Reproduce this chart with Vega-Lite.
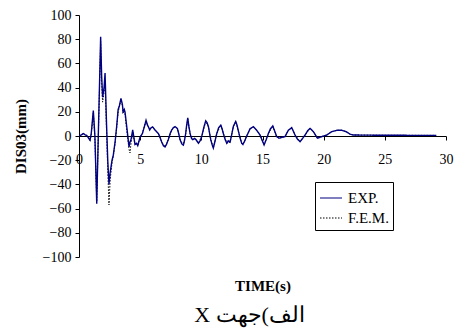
{
  "$schema": "https://vega.github.io/schema/vega-lite/v6.json",
  "width": 367,
  "height": 242,
  "autosize": "none",
  "padding": {"left": 79, "top": 15, "right": 11, "bottom": 79},
  "background": "white",
  "config": {
    "view": {"stroke": null},
    "font": "Liberation Serif",
    "axis": {"labelFont": "Liberation Serif", "titleFont": "Liberation Serif", "labelColor": "black", "titleColor": "black", "domainColor": "black", "tickColor": "black", "grid": false}
  },
  "title": {
    "text": "\u202Bالف)جهت X\u202C",
    "orient": "bottom",
    "anchor": "middle",
    "font": "Liberation Serif",
    "fontSize": 22,
    "fontWeight": "normal",
    "color": "black",
    "offset": 12,
    "dx": -13
  },
  "datasets": {
    "exp": [
      {"t": 0, "v": 0}, {"t": 0.2, "v": 1}, {"t": 0.35, "v": 2}, {"t": 0.5, "v": 1}, {"t": 0.63, "v": 0.5},
      {"t": 0.8, "v": -2}, {"t": 0.9, "v": -3.5}, {"t": 1.0, "v": 2}, {"t": 1.17, "v": 21}, {"t": 1.3, "v": 0},
      {"t": 1.45, "v": -56}, {"t": 1.6, "v": 10}, {"t": 1.77, "v": 82}, {"t": 1.85, "v": 50}, {"t": 1.93, "v": 32},
      {"t": 2.05, "v": 40}, {"t": 2.13, "v": 52}, {"t": 2.25, "v": 10}, {"t": 2.35, "v": -20}, {"t": 2.45, "v": -40},
      {"t": 2.55, "v": -30}, {"t": 2.7, "v": -20}, {"t": 2.8, "v": -16}, {"t": 2.95, "v": -5}, {"t": 3.08, "v": 8},
      {"t": 3.2, "v": 22}, {"t": 3.3, "v": 25}, {"t": 3.43, "v": 31}, {"t": 3.55, "v": 26}, {"t": 3.6, "v": 20},
      {"t": 3.7, "v": 22}, {"t": 3.76, "v": 20}, {"t": 3.9, "v": 8}, {"t": 4.09, "v": -9}, {"t": 4.17, "v": -5},
      {"t": 4.25, "v": -3}, {"t": 4.39, "v": 5}, {"t": 4.5, "v": -2}, {"t": 4.58, "v": -7}, {"t": 4.7, "v": -6},
      {"t": 4.8, "v": -8}, {"t": 4.99, "v": -1}, {"t": 5.18, "v": 2}, {"t": 5.35, "v": 8}, {"t": 5.48, "v": 13},
      {"t": 5.6, "v": 9}, {"t": 5.67, "v": 7.7}, {"t": 5.78, "v": 5}, {"t": 5.86, "v": 6.5}, {"t": 6.02, "v": 7.5},
      {"t": 6.21, "v": 5}, {"t": 6.35, "v": 3.5}, {"t": 6.49, "v": 2}, {"t": 6.62, "v": -1}, {"t": 6.76, "v": -5}, {"t": 6.9, "v": -8}, {"t": 7.03, "v": -9}, {"t": 7.15, "v": -7}, {"t": 7.3, "v": -3},
      {"t": 7.45, "v": 2}, {"t": 7.58, "v": 5}, {"t": 7.72, "v": 7}, {"t": 7.85, "v": 7.7}, {"t": 8.04, "v": 6.3}, {"t": 8.15, "v": 2}, {"t": 8.26, "v": -3}, {"t": 8.4, "v": -6.5}, {"t": 8.53, "v": -7.5},
      {"t": 8.62, "v": -4}, {"t": 8.72, "v": 2}, {"t": 8.8, "v": 9}, {"t": 8.89, "v": 15}, {"t": 8.98, "v": 8}, {"t": 9.08, "v": 2}, {"t": 9.2, "v": -2}, {"t": 9.3, "v": -3}, {"t": 9.45, "v": -2}, {"t": 9.57, "v": -3},
      {"t": 9.76, "v": -6}, {"t": 9.9, "v": -4}, {"t": 10.03, "v": -0.5}, {"t": 10.2, "v": 7}, {"t": 10.36, "v": 12.6}, {"t": 10.47, "v": 11}, {"t": 10.58, "v": 7.7}, {"t": 10.68, "v": 2}, {"t": 10.77, "v": -3},
      {"t": 10.88, "v": -7}, {"t": 10.98, "v": -10}, {"t": 11.1, "v": -5}, {"t": 11.26, "v": 2}, {"t": 11.42, "v": 7}, {"t": 11.59, "v": 9}, {"t": 11.7, "v": 6}, {"t": 11.8, "v": 2}, {"t": 11.95, "v": -3}, {"t": 12.08, "v": -6},
      {"t": 12.2, "v": -4}, {"t": 12.35, "v": -5}, {"t": 12.5, "v": 2}, {"t": 12.62, "v": 8}, {"t": 12.81, "v": 12}, {"t": 12.92, "v": 9}, {"t": 13.03, "v": 4}, {"t": 13.15, "v": -1}, {"t": 13.3, "v": -6},
      {"t": 13.4, "v": -7}, {"t": 13.55, "v": -4}, {"t": 13.71, "v": 0}, {"t": 13.85, "v": 3}, {"t": 13.98, "v": 6}, {"t": 14.25, "v": 7.7}, {"t": 14.5, "v": 5},
      {"t": 14.65, "v": 3}, {"t": 14.8, "v": 0.8}, {"t": 14.95, "v": -3}, {"t": 15.13, "v": -7.4}, {"t": 15.3, "v": -3}, {"t": 15.48, "v": 2}, {"t": 15.65, "v": 6}, {"t": 15.84, "v": 8.3}, {"t": 16.0, "v": 4}, {"t": 16.16, "v": -0.5},
      {"t": 16.35, "v": -1.8}, {"t": 16.6, "v": -1}, {"t": 16.84, "v": -0.5}, {"t": 17.11, "v": 4.7}, {"t": 17.39, "v": 6.9}, {"t": 17.52, "v": 4}, {"t": 17.66, "v": 0.8},
      {"t": 17.85, "v": -2.5}, {"t": 18.07, "v": -4.7}, {"t": 18.28, "v": -2}, {"t": 18.48, "v": 0.8}, {"t": 18.7, "v": 4.5}, {"t": 18.89, "v": 6.3}, {"t": 19.16, "v": 3.6}, {"t": 19.49, "v": -1.8},
      {"t": 19.84, "v": -0.5}, {"t": 20.25, "v": 0.8}, {"t": 20.66, "v": 3.6}, {"t": 21.07, "v": 4.7}, {"t": 21.48, "v": 4.7},
      {"t": 21.83, "v": 3.6}, {"t": 22.16, "v": 1.5}, {"t": 22.43, "v": 0.8}, {"t": 25, "v": 0.6}, {"t": 29.2, "v": 0.5}
    ],
    "fem": [
      {"t": 0, "v": 0}, {"t": 0.2, "v": 1}, {"t": 0.35, "v": 2}, {"t": 0.5, "v": 1}, {"t": 0.63, "v": 0.5},
      {"t": 0.8, "v": -2}, {"t": 0.9, "v": -4}, {"t": 1.0, "v": 1}, {"t": 1.17, "v": 19}, {"t": 1.3, "v": -2},
      {"t": 1.45, "v": -54}, {"t": 1.6, "v": 8}, {"t": 1.77, "v": 78}, {"t": 1.85, "v": 45}, {"t": 1.93, "v": 28},
      {"t": 2.05, "v": 36}, {"t": 2.13, "v": 46}, {"t": 2.25, "v": 5}, {"t": 2.35, "v": -28}, {"t": 2.45, "v": -57},
      {"t": 2.55, "v": -36}, {"t": 2.7, "v": -22}, {"t": 2.8, "v": -17}, {"t": 2.95, "v": -6}, {"t": 3.08, "v": 7},
      {"t": 3.2, "v": 20}, {"t": 3.3, "v": 24}, {"t": 3.43, "v": 30}, {"t": 3.55, "v": 25}, {"t": 3.6, "v": 19},
      {"t": 3.7, "v": 21}, {"t": 3.76, "v": 18}, {"t": 3.9, "v": 5}, {"t": 4.09, "v": -11}, {"t": 4.17, "v": -14},
      {"t": 4.25, "v": -6}, {"t": 4.39, "v": 3}, {"t": 4.5, "v": -3}, {"t": 4.58, "v": -7}, {"t": 4.7, "v": -6},
      {"t": 4.8, "v": -8}, {"t": 4.99, "v": -1}, {"t": 5.18, "v": 2}, {"t": 5.35, "v": 8}, {"t": 5.48, "v": 12},
      {"t": 5.6, "v": 9}, {"t": 5.67, "v": 7.7}, {"t": 5.78, "v": 5}, {"t": 5.86, "v": 6.5}, {"t": 6.02, "v": 7.5},
      {"t": 6.21, "v": 5}, {"t": 6.49, "v": 2}, {"t": 6.76, "v": -5}, {"t": 7.03, "v": -9}, {"t": 7.3, "v": -3},
      {"t": 7.58, "v": 5}, {"t": 7.85, "v": 7.7}, {"t": 8.04, "v": 6.3}, {"t": 8.26, "v": -3}, {"t": 8.53, "v": -7.5},
      {"t": 8.72, "v": 2}, {"t": 8.89, "v": 14}, {"t": 9.08, "v": 2}, {"t": 9.3, "v": -3}, {"t": 9.57, "v": -3},
      {"t": 9.76, "v": -6}, {"t": 10.03, "v": -0.5}, {"t": 10.36, "v": 12}, {"t": 10.58, "v": 7.7}, {"t": 10.77, "v": -3},
      {"t": 10.98, "v": -10}, {"t": 11.26, "v": 2}, {"t": 11.59, "v": 9}, {"t": 11.8, "v": 2}, {"t": 12.08, "v": -6},
      {"t": 12.35, "v": -5}, {"t": 12.62, "v": 8}, {"t": 12.81, "v": 12}, {"t": 13.03, "v": 4}, {"t": 13.3, "v": -6},
      {"t": 13.4, "v": -7}, {"t": 13.71, "v": 0}, {"t": 13.98, "v": 6}, {"t": 14.25, "v": 7.7}, {"t": 14.5, "v": 5},
      {"t": 14.8, "v": 0.8}, {"t": 15.13, "v": -7.4}, {"t": 15.48, "v": 2}, {"t": 15.84, "v": 8.3}, {"t": 16.16, "v": -0.5},
      {"t": 16.35, "v": -1.8}, {"t": 16.84, "v": -0.5}, {"t": 17.11, "v": 4.7}, {"t": 17.39, "v": 6.9}, {"t": 17.66, "v": 0.8},
      {"t": 18.07, "v": -4.7}, {"t": 18.48, "v": 0.8}, {"t": 18.89, "v": 6.3}, {"t": 19.16, "v": 3.6}, {"t": 19.49, "v": -1.8},
      {"t": 19.84, "v": -0.5}, {"t": 20.25, "v": 0.8}, {"t": 20.66, "v": 3.6}, {"t": 21.07, "v": 4.7}, {"t": 21.48, "v": 4.7},
      {"t": 21.83, "v": 3.6}, {"t": 22.16, "v": 1.5}, {"t": 22.43, "v": 0.8}, {"t": 25, "v": 0.6}, {"t": 29.2, "v": 0.5}
    ]
  },
  "encoding": {
    "x": {
      "field": "t", "type": "quantitative",
      "scale": {"domain": [0, 30], "nice": false, "zero": false},
      "axis": {
        "title": "TIME(s)", "titleFontSize": 15, "titleFontWeight": "bold",
        "titleY": 149, "titleBaseline": "middle",
        "values": [0, 5, 10, 15, 20, 25, 30],
        "labelFontSize": 14, "labelPadding": 12, "tickSize": 4,
        "offset": -121, "labelFlush": false
      }
    },
    "y": {
      "field": "v", "type": "quantitative",
      "scale": {"domain": [-100, 100], "nice": false},
      "axis": {
        "title": "DIS03(mm)", "titleFontSize": 15, "titleFontWeight": "bold",
        "titleX": -59, "titleY": 121, "titleAngle": -90, "titleAlign": "center", "titleBaseline": "middle",
        "values": [-100, -80, -60, -40, -20, 0, 20, 40, 60, 80, 100],
        "labelFontSize": 14, "labelPadding": 4, "tickSize": 4
      }
    },
    "color": {
      "field": "s", "type": "nominal",
      "scale": {"domain": ["EXP.", "F.E.M."], "range": ["#000080", "#000000"]},
      "legend": {
        "title": null, "orient": "none", "legendX": 236, "legendY": 167,
        "symbolType": "stroke", "symbolSize": 484, "symbolStrokeWidth": 1.2,
        "labelFont": "Liberation Serif", "labelFontSize": 15, "labelColor": "black",
        "labelExpr": "datum.label + '    '",
        "padding": 4, "rowPadding": -4, "labelOffset": 5,
        "strokeColor": "black", "fillColor": "white"
      }
    },
    "strokeDash": {
      "field": "s", "type": "nominal",
      "scale": {"domain": ["EXP.", "F.E.M."], "range": [[1, 0], [1.5, 1.5]]},
      "legend": {
        "title": null, "orient": "none", "legendX": 236, "legendY": 167,
        "symbolType": "stroke", "symbolSize": 484, "symbolStrokeWidth": 1.2,
        "labelFont": "Liberation Serif", "labelFontSize": 15, "labelColor": "black",
        "labelExpr": "datum.label + '    '",
        "padding": 4, "rowPadding": -4, "labelOffset": 5,
        "strokeColor": "black", "fillColor": "white"
      }
    }
  },
  "layer": [
    {
      "data": {"name": "fem"},
      "transform": [{"calculate": "'F.E.M.'", "as": "s"}],
      "mark": {"type": "line", "strokeWidth": 1, "clip": true}
    },
    {
      "data": {"name": "exp"},
      "transform": [{"calculate": "'EXP.'", "as": "s"}],
      "mark": {"type": "line", "strokeWidth": 1.4, "clip": true}
    }
  ]
}
